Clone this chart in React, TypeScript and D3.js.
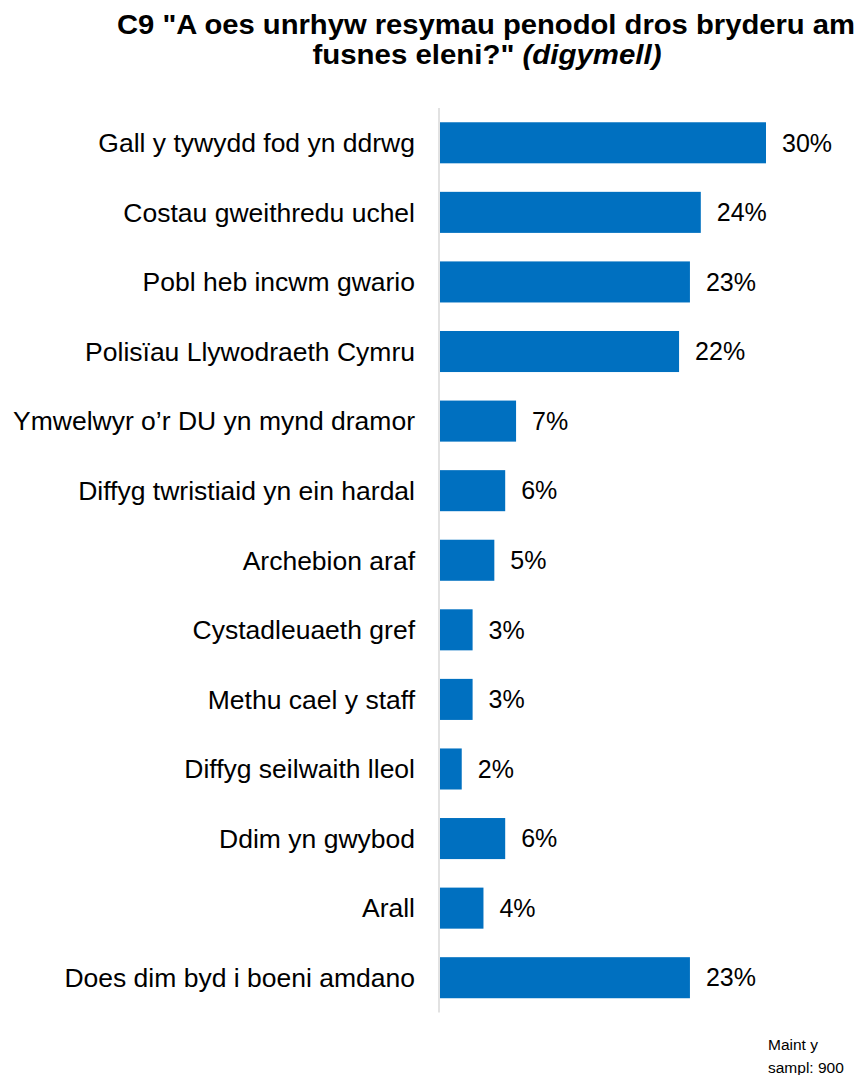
import * as d3 from "d3";
import React from "react";

const categories = [
  "Gall y tywydd fod yn ddrwg",
  "Costau gweithredu uchel",
  "Pobl heb incwm gwario",
  "Polisïau Llywodraeth Cymru",
  "Ymwelwyr o’r DU yn mynd dramor",
  "Diffyg twristiaid yn ein hardal",
  "Archebion araf",
  "Cystadleuaeth gref",
  "Methu cael y staff",
  "Diffyg seilwaith lleol",
  "Ddim yn gwybod",
  "Arall",
  "Does dim byd i boeni amdano",
];
const values = [30, 24, 23, 22, 7, 6, 5, 3, 3, 2, 6, 4, 23];

const W = 858;
const H = 1075;
const FONT = "Arial, 'Liberation Sans', sans-serif";

export default function App() {
  const x = d3.scaleLinear().domain([0, 30]).range([440, 766]);
  const y = d3
    .scaleBand<string>()
    .domain(categories)
    .range([108, 1012.5])
    .paddingInner(0.41)
    .paddingOuter(0.205);

  return (
    <svg
      width={W}
      height={H}
      style={{ position: "absolute", left: 0, top: 0 }}
      fontFamily={FONT}
    >
      <rect width={W} height={H} fill="#fff" />
      <text
        x={486}
        y={34}
        textAnchor="middle"
        fontSize={28}
        fontWeight="bold"
        textLength={738}
        lengthAdjust="spacingAndGlyphs"
      >
        C9 "A oes unrhyw resymau penodol dros bryderu am
      </text>
      <text
        x={487}
        y={64}
        textAnchor="middle"
        fontSize={28}
        fontWeight="bold"
        textLength={349}
        lengthAdjust="spacingAndGlyphs"
      >
        fusnes eleni?"{" "}
        <tspan fontStyle="italic">(digymell)</tspan>
      </text>

      {categories.map((c, i) => {
        const yc = y(c)! + y.bandwidth() / 2;
        return (
          <g key={c}>
            <rect
              x={x(0)}
              y={y(c)}
              width={x(values[i]) - x(0)}
              height={y.bandwidth()}
              fill="#0070C0"
            />
            <text
              x={415}
              y={yc}
              dy="0.35em"
              textAnchor="end"
              fontSize={26.5}
              fill="#000"
            >
              {c}
            </text>
            <text
              x={x(values[i]) + 16}
              y={yc}
              dy="0.35em"
              fontSize={25}
              fill="#000"
            >
              {values[i]}%
            </text>
          </g>
        );
      })}

      <line x1={439} x2={439} y1={108} y2={1012.5} stroke="#d9d9d9" strokeWidth={1.5} />

      <text x={768} y={1050} fontSize={15.5}>
        Maint y
      </text>
      <text x={768} y={1073} fontSize={15.5}>
        sampl: 900
      </text>
    </svg>
  );
}
